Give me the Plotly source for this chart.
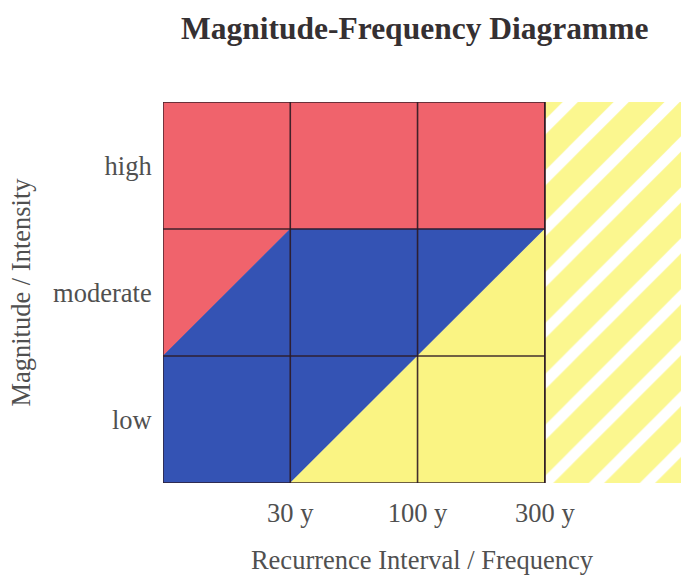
import plotly.graph_objects as go

# ---- data ----
intensity_levels = ["low", "moderate", "high"]          # y categories (row centres 0.5, 1.5, 2.5)
interval_labels = ["30 y", "100 y", "300 y"]             # x tick labels at column boundaries
interval_ticks = [1, 2, 3]
x_extent = 4.07                                          # hatched zone extends beyond 300 y

# zone polygons in (interval index, intensity index) units
red_x = [0, 3, 3, 1, 0, 0]
red_y = [3, 3, 2, 2, 1, 3]
blue_x = [0, 1, 3, 1, 0, 0]
blue_y = [0, 0, 2, 2, 1, 0]
yellow_x = [1, 3, 3, 1]
yellow_y = [0, 0, 2, 0]
hatch_x = [3, x_extent, x_extent, 3, 3]
hatch_y = [0, 0, 3, 3, 0]

RED = "#F0636C"
BLUE = "#3453B4"
YELLOW = "#FAF483"
HATCH_YELLOW = "#FBF78F"
LINE = "rgba(45,25,35,0.9)"
TXT = "#505050"

fig = go.Figure()
fig.add_trace(go.Scatter(x=hatch_x, y=hatch_y, fill="toself", mode="lines",
                         line=dict(width=0), fillcolor=HATCH_YELLOW,
                         fillpattern=dict(shape="/", bgcolor=HATCH_YELLOW, fgcolor="white",
                                          size=36, solidity=0.3, fillmode="replace"),
                         hoverinfo="skip", showlegend=False))
for xs, ys, c in [(red_x, red_y, RED), (blue_x, blue_y, BLUE), (yellow_x, yellow_y, YELLOW)]:
    fig.add_trace(go.Scatter(x=xs, y=ys, fill="toself", mode="lines",
                             line=dict(width=0.6, color=c), fillcolor=c,
                             hoverinfo="skip", showlegend=False))

# grid lines
shapes = []
for xv in interval_ticks:
    shapes.append(dict(type="line", xref="x", yref="y", x0=xv, x1=xv, y0=0, y1=3,
                       line=dict(color=LINE, width=1.6)))
for yv in [1, 2]:
    shapes.append(dict(type="line", xref="x", yref="y", x0=0, x1=3, y0=yv, y1=yv,
                       line=dict(color=LINE, width=1.6)))
shapes.append(dict(type="rect", xref="x", yref="y", x0=0, x1=3, y0=0, y1=3,
                   line=dict(color=LINE, width=1.4)))

fig.update_layout(
    width=681, height=575,
    margin=dict(l=163, r=0, t=102, b=92),
    paper_bgcolor="white", plot_bgcolor="white",
    shapes=shapes,
    title=dict(text="<b>Magnitude-Frequency Diagramme</b>", xref="container", x=0.609,
               xanchor="center", yref="container", y=0.951, yanchor="middle",
               font=dict(family="Liberation Serif", size=31.5, color="#353032")),
    font=dict(family="Liberation Serif", color=TXT),
    xaxis=dict(range=[0, x_extent], tickvals=interval_ticks, ticktext=interval_labels,
               showgrid=False, zeroline=False, showline=False, automargin=False,
               ticks="outside", ticklen=6, tickcolor="rgba(0,0,0,0)",
               tickfont=dict(size=26.5, color=TXT),
               title=dict(text="Recurrence Interval / Frequency", standoff=24,
                          font=dict(size=26.5, color=TXT))),
    yaxis=dict(range=[0, 3], tickvals=[0.5, 1.5, 2.5], ticktext=intensity_levels,
               showgrid=False, zeroline=False, showline=False, automargin=False,
               ticks="outside", ticklen=5, tickcolor="rgba(0,0,0,0)",
               tickfont=dict(size=26.5, color=TXT),
               title=dict(text="Magnitude / Intensity", standoff=14,
                          font=dict(size=26.5, color=TXT))),
)

fig.write_html("out.html", config={"displayModeBar": False},
               post_script="document.body.style.margin='0';document.body.style.overflow='hidden';")
